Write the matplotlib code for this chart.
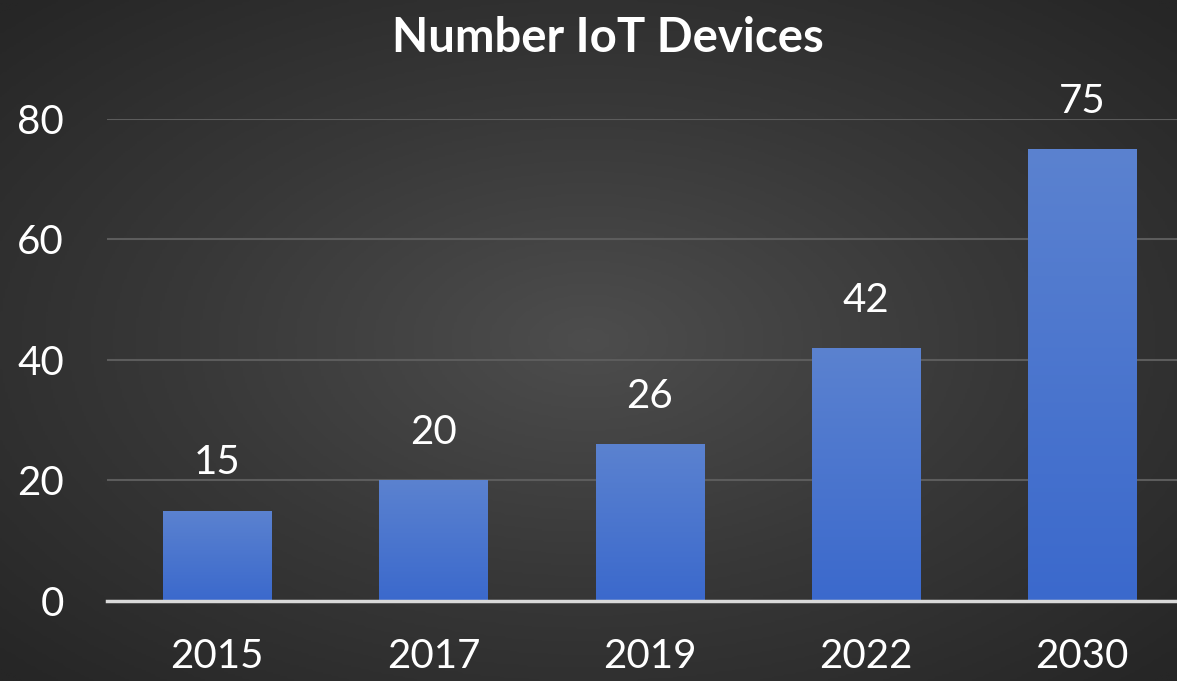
import numpy as np
import matplotlib.pyplot as plt
from matplotlib.colors import LinearSegmentedColormap

years = ["2015", "2017", "2019", "2022", "2030"]
devices = [15, 20, 26, 42, 75]
yticks = [0, 20, 40, 60, 80]

plt.rcParams["font.family"] = ["Lato", "DejaVu Sans"]

fig = plt.figure(figsize=(11.77, 6.81), dpi=100)

# radial gradient background
bg = fig.add_axes([0, 0, 1, 1], zorder=0)
yy, xx = np.mgrid[-1:1:300j, -1:1:500j]
r = np.sqrt((xx * 0.9) ** 2 + (yy * 0.9) ** 2)
bg_cmap = LinearSegmentedColormap.from_list("bg", ["#4d4d4d", "#383838", "#262626"])
bg.imshow(r, cmap=bg_cmap, aspect="auto", extent=[0, 1, 0, 1], vmin=0, vmax=1.25)
bg.axis("off")

ax = fig.add_axes([0.0909, 0.1175, 0.9091, 0.7078], zorder=1)
ax.patch.set_alpha(0)

x = np.arange(len(years))
bars = ax.bar(x, devices, width=0.5, color="#4472c4", zorder=2)

# vertical gradient inside each bar
bar_cmap = LinearSegmentedColormap.from_list("bar", ["#5b82d0", "#3b69cc"])
grad = np.linspace(0, 1, 256).reshape(-1, 1)
for b in bars:
    b.set_facecolor("none")
    x0, w, h = b.get_x(), b.get_width(), b.get_height()
    im = ax.imshow(grad, cmap=bar_cmap, aspect="auto",
                   extent=[x0, x0 + w, 0, h], origin="upper", zorder=2)
    im.set_clip_path(b)

for xi, v in zip(x, devices):
    ax.annotate(str(v), (xi, v), xytext=(0, 21), textcoords="offset points",
                ha="center", va="bottom", color="white", fontsize=29,
                annotation_clip=False)

ax.set_xlim(-0.51, 4.44)
ax.set_ylim(0, 80)
ax.set_yticks(yticks)
ax.set_xticks(x)
ax.set_xticklabels(years)
ax.tick_params(axis="both", length=0, colors="white", labelsize=29)
ax.tick_params(axis="y", pad=31)
ax.tick_params(axis="x", pad=27)
ax.grid(axis="y", color="#5c5c5c", linewidth=1.5, zorder=0)
ax.set_axisbelow(True)
for s in ["top", "right", "left"]:
    ax.spines[s].set_visible(False)
ax.spines["bottom"].set_color("#d9d9d9")
ax.spines["bottom"].set_linewidth(2.5)
ax.spines["bottom"].set_zorder(3)

fig.text(0.5166, 0.944, "Number IoT Devices", ha="center", va="center",
         color="white", fontsize=34, fontweight="bold")

fig.savefig("out.png", dpi=100)
